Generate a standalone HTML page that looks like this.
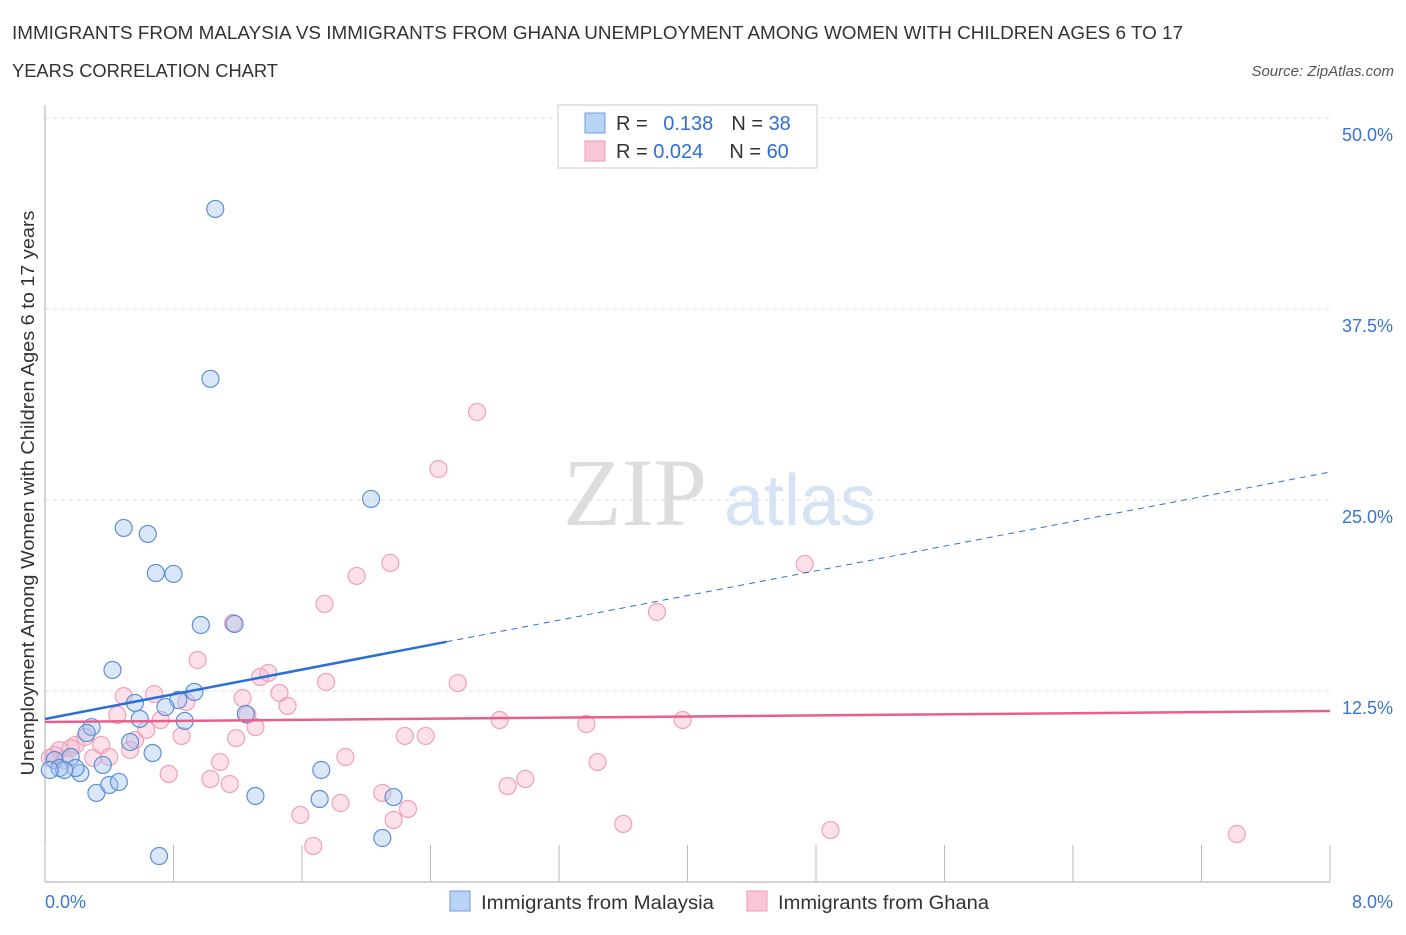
<!DOCTYPE html>
<html><head><meta charset="utf-8"><style>
body{margin:0;background:#fff;font-family:"Liberation Sans",sans-serif}
</style></head><body>
<svg id="chart" width="1406" height="930" xmlns="http://www.w3.org/2000/svg" font-family="Liberation Sans, sans-serif">
<text x="12" y="39" font-size="18" fill="#333" textLength="1171" lengthAdjust="spacingAndGlyphs">IMMIGRANTS FROM MALAYSIA VS IMMIGRANTS FROM GHANA UNEMPLOYMENT AMONG WOMEN WITH CHILDREN AGES 6 TO 17</text>
<text x="12" y="77" font-size="18" fill="#333" textLength="266" lengthAdjust="spacingAndGlyphs">YEARS CORRELATION CHART</text>
<text x="1394" y="76" font-size="15" fill="#555" font-style="italic" text-anchor="end">Source: ZipAtlas.com</text>
<text x="635" y="525" font-size="96" fill="#ddd" font-family="Liberation Serif, serif" text-anchor="middle">ZIP</text>
<text x="800" y="525" font-size="72" fill="#d5e3f5" text-anchor="middle">atlas</text>
<g id="grid"></g><g id="marks"></g><g id="lines"></g>
<text transform="translate(34,493) rotate(-90)" font-size="18" fill="#333" text-anchor="middle" textLength="565" lengthAdjust="spacingAndGlyphs">Unemployment Among Women with Children Ages 6 to 17 years</text>
<g>
<rect x="558" y="105" width="259" height="63" fill="#fff" stroke="#ccc"/>
<rect x="585" y="113" width="20" height="20" fill="#b8d3f5" stroke="#6d9de0"/>
<rect x="585" y="141" width="20" height="20" fill="#f9c6d5" stroke="#ee9ab5"/>
<text x="616" y="130" font-size="20" fill="#333">R = <tspan fill="#2f6fd0" dx="10">0.138</tspan><tspan dx="18">N = </tspan><tspan fill="#2f6fd0">38</tspan></text>
<text x="616" y="158" font-size="20" fill="#333">R = <tspan fill="#2f6fd0">0.024</tspan><tspan dx="26">N = </tspan><tspan fill="#2f6fd0">60</tspan></text>
</g>
<g>
<rect x="450" y="891" width="20" height="20" fill="#b8d3f5" stroke="#6d9de0"/>
<text x="481" y="909" font-size="19" fill="#333" textLength="233" lengthAdjust="spacingAndGlyphs">Immigrants from Malaysia</text>
<rect x="747" y="891" width="20" height="20" fill="#f9c6d5" stroke="#ee9ab5"/>
<text x="778" y="909" font-size="19" fill="#333" textLength="211" lengthAdjust="spacingAndGlyphs">Immigrants from Ghana</text>
</g>
</svg>
<script>
const yTicks=[12.5,25,37.5,50];
const yTickLabels=["12.5%","25.0%","37.5%","50.0%"];
const xTicks=[0,0.8,1.6,2.4,3.2,4,4.8,5.6,6.4,7.2,8];
const malaysiaX=[1.06,1.03,2.03,0.49,0.64,0.69,0.80,0.97,1.18,0.42,0.93,0.83,0.56,0.75,0.59,0.87,1.25,0.29,0.26,0.53,0.67,0.36,0.06,0.09,0.16,0.22,0.19,0.12,0.32,0.40,0.46,1.31,1.72,1.71,2.17,2.10,0.71,0.03];
const malaysiaY=[44.05,32.93,25.07,23.17,22.78,20.22,20.16,16.82,16.89,13.88,12.44,11.91,11.72,11.45,10.67,10.54,11.00,10.14,9.75,9.16,8.44,7.66,7.98,7.46,8.18,7.13,7.46,7.33,5.83,6.35,6.55,5.63,7.33,5.43,5.56,2.88,1.70,7.33];
const ghanaX=[2.69,2.45,2.15,1.94,1.74,4.73,3.81,1.17,0.95,1.39,1.34,1.75,2.57,1.23,1.46,0.49,0.68,1.51,0.88,0.45,0.72,1.26,1.31,2.83,3.37,3.97,0.63,1.19,0.85,2.24,2.37,0.25,0.35,0.16,0.09,0.06,0.53,0.30,1.87,1.09,0.77,1.03,1.15,2.99,2.88,3.44,2.10,1.84,2.26,1.59,2.17,3.60,4.89,7.42,1.67,0.40,0.12,0.03,0.19,0.56];
const ghanaY=[30.76,27.03,20.88,20.03,18.20,20.81,17.67,16.95,14.53,13.68,13.42,13.09,13.02,12.04,12.37,12.17,12.30,11.52,11.78,10.93,10.60,10.93,10.14,10.60,10.34,10.60,9.95,9.42,9.56,9.56,9.56,9.49,8.97,8.77,8.64,8.31,8.64,8.12,8.18,7.85,7.07,6.74,6.41,6.74,6.28,7.85,5.83,5.17,4.78,4.39,4.06,3.80,3.40,3.14,2.36,8.18,7.98,8.12,8.97,9.29];
const malaysiaTrend=[10.67,26.83];
const ghanaTrend=[10.47,11.19];
const NS="http://www.w3.org/2000/svg";
const X=v=>45+v/8*1285, Y=v=>882-v/50*764;
function mk(t,a,p){const e=document.createElementNS(NS,t);for(const k in a)e.setAttribute(k,a[k]);p.appendChild(e);return e;}
const grid=document.getElementById('grid'),marks=document.getElementById('marks'),lines=document.getElementById('lines');
yTicks.forEach((t,i)=>{
 const l=mk('line',{x1:45,x2:1330,y1:Y(t),y2:Y(t),stroke:'#ddd','stroke-dasharray':'4,4'},grid);
 
 
 const tx=mk('text',{x:1393,y:Y(t)+23,'font-size':18,fill:'#3a74d0','text-anchor':'end'},grid);
 tx.textContent=yTickLabels[i];
 
 
});
const ax=mk('line',{x1:45,x2:45,y1:105,y2:882,stroke:'#aaa'},grid);


const bx=mk('line',{x1:45,x2:1330,y1:882,y2:882,stroke:'#aaa'},grid);


xTicks.forEach(t=>{
 const l=mk('line',{x1:X(t),x2:X(t),y1:845,y2:882,stroke:'#bbb'},grid);
 
 
});
[[0,"0.0%","start",45],[8,"8.0%","end",1393]].forEach(a=>{
 const tx=mk('text',{x:a[3],y:908,'font-size':18,fill:'#3a74d0','text-anchor':a[2]},grid);
 tx.textContent=a[1];
 
 
});
ghanaX.forEach((x,i)=>{
 const c=mk('circle',{cx:X(x),cy:Y(ghanaY[i]),r:8.5,fill:'rgba(246,170,195,0.35)',stroke:'#f0a0b8','stroke-width':1.2},marks);
 
 
});
malaysiaX.forEach((x,i)=>{
 const c=mk('circle',{cx:X(x),cy:Y(malaysiaY[i]),r:8.5,fill:'rgba(160,195,240,0.4)',stroke:'#5b8fd8','stroke-width':1.2},marks);
 
 
});
const mY=x=>malaysiaTrend[0]+(malaysiaTrend[1]-malaysiaTrend[0])*x/8;
let l1=mk('line',{x1:X(0),y1:Y(mY(0)),x2:X(2.5),y2:Y(mY(2.5)),stroke:'#2a6fd6','stroke-width':2.5},lines);


let l2=mk('line',{x1:X(2.5),y1:Y(mY(2.5)),x2:X(8),y2:Y(mY(8)),stroke:'#2a6fd6','stroke-width':1,'stroke-dasharray':'6,5'},lines);


let l3=mk('line',{x1:X(0),y1:Y(ghanaTrend[0]),x2:X(8),y2:Y(ghanaTrend[1]),stroke:'#e8608a','stroke-width':2.5},lines);


</script>
</body></html>
